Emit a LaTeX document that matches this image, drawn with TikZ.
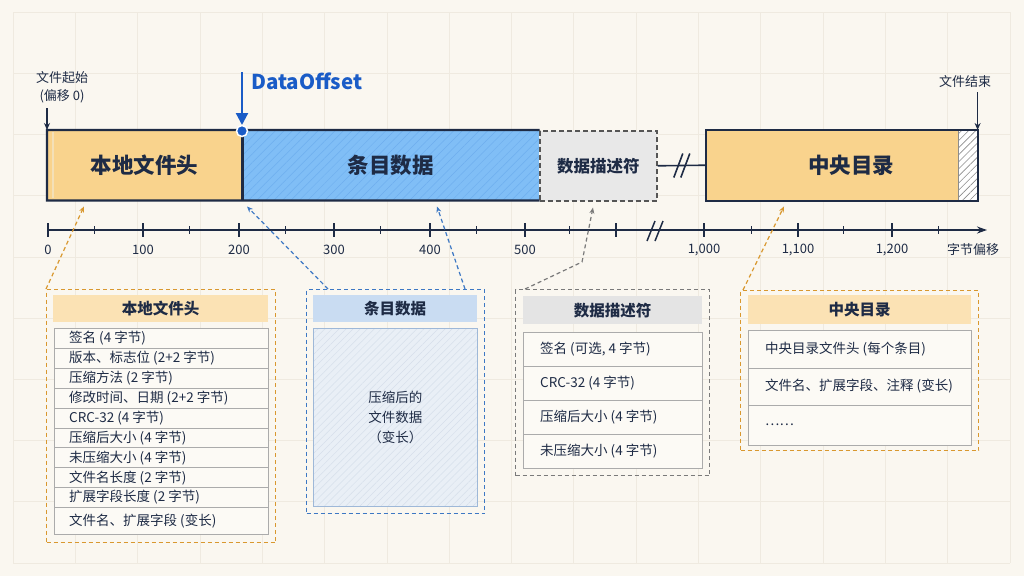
\documentclass[tikz,border=0pt]{standalone}
\usepackage{fontspec}
\setmainfont{Noto Sans CJK SC}
\usetikzlibrary{patterns.meta,arrows.meta,calc}
\definecolor{bg}{HTML}{FAF7F0}
\definecolor{gridc}{HTML}{EFEAE0}
\definecolor{ink}{HTML}{1E2B45}
\definecolor{orangeF}{HTML}{F9D38D}
\definecolor{orangeL}{HTML}{F4E0B8}
\definecolor{orangeD}{HTML}{D9982F}
\definecolor{blueF}{HTML}{80BEF6}
\definecolor{blueH}{HTML}{6EAEEE}
\definecolor{blueD}{HTML}{1A5CC7}
\definecolor{blueC}{HTML}{3D78C4}
\definecolor{descF}{HTML}{E8E8E8}
\definecolor{descB}{HTML}{555555}
\definecolor{grayC}{HTML}{7A7A7A}
\definecolor{hdrO}{HTML}{FBE2B4}
\definecolor{hdrB}{HTML}{C9DCF2}
\definecolor{hdrG}{HTML}{E4E4E4}
\definecolor{rowB}{HTML}{ABABAB}
\definecolor{rowF}{HTML}{FCFAF5}
\definecolor{entF}{HTML}{E9EFF6}
\definecolor{entH}{HTML}{D6DFEB}
\definecolor{entB}{HTML}{9EB8D8}
\definecolor{hatchG}{HTML}{8C8C8C}
\newcommand\fbar{\fontsize{21.5}{25}\selectfont\bfseries}
\newcommand\fdesc{\fontsize{16.5}{20}\selectfont\bfseries}
\newcommand\fdoff{\fontsize{20.5}{24}\selectfont\bfseries}
\newcommand\fsmall{\fontsize{13}{18}\selectfont}
\newcommand\fhead{\fontsize{15.5}{19}\selectfont\bfseries}
\newcommand\frow{\fontsize{13.5}{15}\selectfont}
\newcommand\fent{\fontsize{13.5}{20}\selectfont}
\begin{document}
\begin{tikzpicture}[x=1pt,y=-1pt,
  seg/.style={anchor=north west, inner sep=0pt, minimum height=70pt, text=ink, font=\fbar},
  frame/.style={draw=ink, line width=2.2pt},
  odash/.style={draw=orangeD, line width=1.2pt, dash pattern=on 4pt off 3pt},
  bdash/.style={draw=blueC, line width=1.2pt, dash pattern=on 4pt off 3pt},
  gdash/.style={draw=grayC, line width=1.2pt, dash pattern=on 4pt off 3pt},
  conn/.style={-{Stealth[length=6pt,width=5pt]}},
  outer/.style={anchor=north west, inner sep=0pt},
  hdr/.style={anchor=north west, inner sep=0pt, font=\fhead, text=ink},
  rowbox/.style={anchor=north west, draw=rowB, fill=rowF, line width=0.8pt, inner sep=0pt},
  rowtxt/.style={anchor=west, inner sep=0pt, font=\frow, text=ink},
  axl/.style={font=\fsmall, text=ink, inner sep=0pt},
  tickmaj/.style={draw=ink, line width=1.3pt},
  tickmin/.style={draw=ink, line width=0.9pt},
]
% background and grid
\path[use as bounding box, fill=bg] (0,0) rectangle (1024,576);
\foreach \gx in {0,...,16} \draw[gridc, line width=0.6pt] ({13+\gx*62.3},12) -- ({13+\gx*62.3},563);
\foreach \gy in {0,...,9} \draw[gridc, line width=0.6pt] (13,{12+\gy*61.2}) -- (1010,{12+\gy*61.2});

% ---------- top bar ----------
\node[seg, fill=orangeF, minimum width=195pt] (lfh) at (47,130) {本地文件头};
\draw[orangeL, line width=1.2pt] ($(lfh.north west)+(6,2)$) -- ($(lfh.south west)+(6,-2)$);
\node[seg, preaction={fill=blueF}, pattern={Lines[angle=45,distance=6pt,line width=0.5pt]}, pattern color=blueH, minimum width=297pt] (entry) at (242,130) {条目数据};
\draw[frame] (entry.south east) -- (lfh.south west) -- (lfh.north west) -- (entry.north east);
\draw[frame] (lfh.north east) -- (lfh.south east);
\node[seg, fill=descF, draw=descB, line width=1.6pt, dash pattern=on 5pt off 3pt, minimum width=117pt, font=\fdesc] (desc) at (539,130) {数据描述符};
\node[seg, fill=orangeF, minimum width=252pt] (cd) at (706,130) {};
\node[seg, preaction={fill=white}, pattern={Lines[angle=45,distance=5pt,line width=0.6pt]}, pattern color=hatchG, minimum width=19pt] (cdh) at (958,130) {};
\draw[hatchG, line width=0.8pt] (cdh.north west) -- (cdh.south west);
\draw[frame] (cd.north west) rectangle (cdh.south east);
\node[text=ink, font=\fbar, inner sep=0pt] (cdlabel) at (851,165) {中央目录};
% link with break
\draw[ink, line width=1.6pt] (desc.east) -- (cd.west);
\coordinate (brk) at ($(desc.east)!0.5!(cd.west)$);
\draw[ink, line width=1.6pt] ($(brk)+(-8,12)$) -- ($(brk)+(1,-12)$);
\draw[ink, line width=1.6pt] ($(brk)+(-1,12)$) -- ($(brk)+(8,-12)$);

% ---------- markers above ----------
\node[font=\fsmall, text=ink, align=center, inner sep=0pt] (start) at (62,87) {文件起始\\(偏移 0)};
\draw[ink, line width=1.3pt, -{Stealth[length=7pt,width=6pt]}] (lfh.north west |- 0,108) -- (lfh.north west);
\node[font=\fdoff, text=blueD, anchor=west, inner sep=0pt] (doff) at (251,81) {DataOffset};
\coordinate (dpt) at (242,131);
\draw[blueD, line width=2.2pt, -{Triangle[length=12pt,width=12pt]}] (dpt |- 0,72) -- ($(dpt)+(0,-6)$);
\fill[blueD, draw=white, line width=1.5pt] (dpt) circle (5.5pt);
\node[font=\fsmall, text=ink, inner sep=0pt] (fend) at (965,82) {文件结束};
\draw[ink, line width=1.3pt, -{Stealth[length=7pt,width=6pt]}] (cdh.north east |- fend.south) ++(0,4) -- (cdh.north east);

% ---------- axis ----------
\coordinate (ax0) at (47,230);
\coordinate (ax1) at (987,230);
\draw[ink, line width=1.5pt, -{Stealth[length=10pt,width=7pt]}] (ax0) -- (ax1);
\foreach \tx in {48,143,239,334,430,525,616,704,798,892} \draw[tickmaj] (\tx,223) -- (\tx,237);
\foreach \tx in {94,189,285,380,476,569,751,843,938} \draw[tickmin] (\tx,226) -- (\tx,234);
\draw[ink, line width=1.5pt] (647,241) -- (655,221);
\draw[ink, line width=1.5pt] (655,241) -- (663,221);
\node[axl] (l0) at (48,250) {0};
\node[axl] (l1) at (143,250) {100};
\node[axl] (l2) at (239,250) {200};
\node[axl] (l3) at (334,250) {300};
\node[axl] (l4) at (430,250) {400};
\node[axl] (l5) at (525,250) {500};
\node[axl] (l10) at (704,250) {1,000};
\node[axl] (l11) at (798,250) {1,100};
\node[axl] (l12) at (892,250) {1,200};
\node[axl] (lunit) at (973,250) {字节偏移};

% ---------- detail: local file header ----------
\node[outer, odash, minimum width=229pt, minimum height=253pt] (lfhd) at (46,289) {};
\node[hdr, fill=hdrO, minimum width=215pt, minimum height=27pt] (lfhh) at (53,295) {本地文件头};
\foreach \t [count=\i from 0] in {签名 (4 字节), 版本、标志位 (2+2 字节), 压缩方法 (2 字节), 修改时间、日期 (2+2 字节), CRC-32 (4 字节), 压缩后大小 (4 字节), 未压缩大小 (4 字节), 文件名长度 (2 字节), 扩展字段长度 (2 字节)}{
  \node[rowbox, minimum width=214pt, minimum height=19.9pt] (lr\i) at (54,{328+19.9*\i}) {};
  \node[rowtxt] (lt\i) at ($(lr\i.west)+(15,0)$) {\t};
}
\node[rowbox, minimum width=214pt, minimum height=26.6pt] (lr9) at (54,507.1) {};
\node[rowtxt] (lt9) at ($(lr9.west)+(15,0)$) {文件名、扩展字段 (变长)};

% ---------- detail: entry data ----------
\node[outer, bdash, minimum width=178pt, minimum height=224pt] (entd) at (306,289) {};
\node[hdr, fill=hdrB, minimum width=164pt, minimum height=27pt] (enth) at (313,295) {条目数据};
\node[outer, draw=entB, line width=1pt, preaction={fill=entF}, pattern={Lines[angle=45,distance=5pt,line width=0.5pt]}, pattern color=entH, minimum width=164pt, minimum height=178pt, align=center, font=\fent, text=ink] (entbody) at (313,328) {压缩后的\\文件数据\\（变长）};

% ---------- detail: data descriptor ----------
\node[outer, gdash, minimum width=194pt, minimum height=186pt] (desd) at (515,289) {};
\node[hdr, fill=hdrG, minimum width=179pt, minimum height=28pt] (desh) at (523,296) {数据描述符};
\foreach \t [count=\i from 0] in {{签名 (可选, 4 字节)}, CRC-32 (4 字节), 压缩后大小 (4 字节), 未压缩大小 (4 字节)}{
  \node[rowbox, minimum width=179pt, minimum height=34pt] (dr\i) at (523,{332+34*\i}) {};
  \node[rowtxt] (dt\i) at ($(dr\i.west)+(17,0)$) {\t};
}

% ---------- detail: central directory ----------
\node[outer, odash, minimum width=238pt, minimum height=160pt] (cdd) at (740,290) {};
\node[hdr, fill=hdrO, minimum width=223pt, minimum height=29pt] (cdhd) at (748,295) {中央目录};
\node[rowbox, minimum width=223pt, minimum height=37.5pt] (cr0) at (748,330) {};
\node[rowtxt] (ct0) at ($(cr0.west)+(17,0)$) {中央目录文件头 (每个条目)};
\node[rowbox, minimum width=223pt, minimum height=37pt] (cr1) at (748,367.5) {};
\node[rowtxt] (ct1) at ($(cr1.west)+(17,0)$) {文件名、扩展字段、注释 (变长)};
\node[rowbox, minimum width=223pt, minimum height=40pt] (cr2) at (748,404.5) {};
\node[rowtxt] (ct2) at ($(cr2.west)+(17,0)$) {……};

% ---------- connectors ----------
\draw[odash, conn] (lfhd.north west) -- ($(lfh.south west)+(37,6)$);
\draw[bdash, conn] ($(entd.north west)+(22,0)$) -- ($(entry.south west)+(5,6)$);
\draw[bdash, conn] ($(entd.north west)+(159,0)$) -- ($(entry.south west)+(195,6)$);
\coordinate (gbend) at (582,262);
\draw[gdash, conn] ($(desd.north west)+(10,0)$) -- (gbend) -- ($(desc.south west)+(54,6)$);
\draw[odash, conn] ($(cdd.north west)+(3,0)$) -- ($(cd.south west)+(78,6)$);
\end{tikzpicture}
\end{document}
